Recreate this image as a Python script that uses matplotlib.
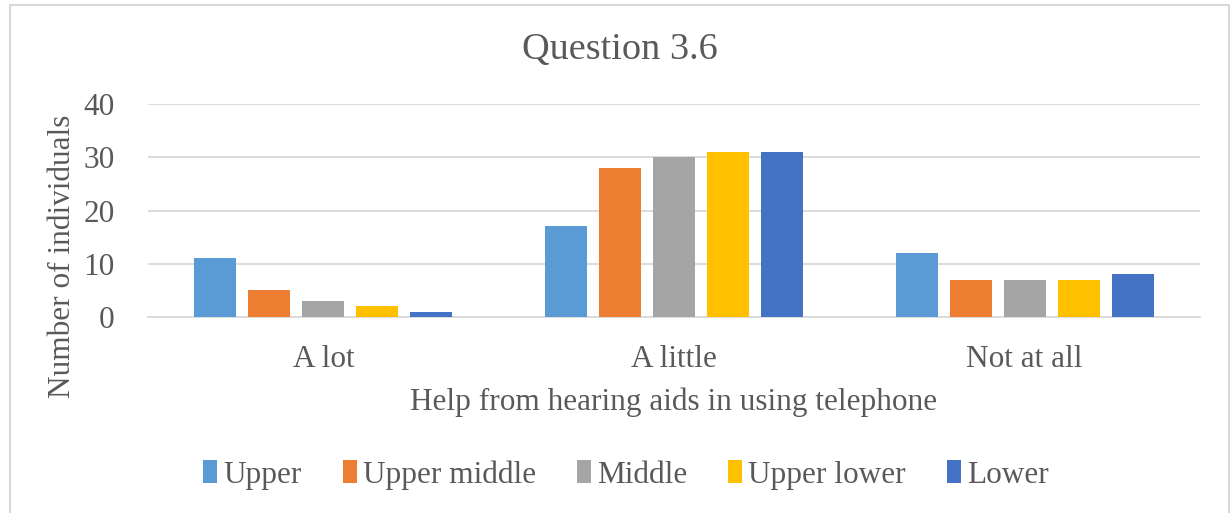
import matplotlib
matplotlib.use("Agg")
import matplotlib.pyplot as plt
from matplotlib.patches import Rectangle
import numpy as np

categories = ["A lot", "A little", "Not at all"]
series_names = ["Upper", "Upper middle", "Middle", "Upper lower", "Lower"]
upper = [11, 17, 12]
upper_middle = [5, 28, 7]
middle = [3, 30, 7]
upper_lower = [2, 31, 7]
lower = [1, 31, 8]
colors = ["#5B9BD5", "#ED7D31", "#A5A5A5", "#FFC000", "#4472C4"]
yticks = [0, 10, 20, 30, 40]

plt.rcParams['font.family'] = ['Liberation Serif', 'DejaVu Serif']
text_color = "#595959"
fs = 22.5

fig = plt.figure(figsize=(12.32, 5.13), dpi=100)
W, H = 1232, 513
ax = fig.add_axes([148/W, 1 - 317/H, (1200-148)/W, (317-104)/H])

data = [upper, upper_middle, middle, upper_lower, lower]
x = np.arange(len(categories))
step = 0.154
width = 0.12
for i, (vals, name, c) in enumerate(zip(data, series_names, colors)):
    ax.bar(x + (i - 2) * step, vals, width, color=c, label=name, zorder=3)

ax.set_xlim(-0.5, 2.5)
ax.set_ylim(0, 40)
ax.set_yticks(yticks)
ax.set_xticks(x)
ax.set_xticklabels(categories)
ax.grid(axis='y', color="#D9D9D9", linewidth=1.3, zorder=0)
for s in ["top", "right", "left"]:
    ax.spines[s].set_visible(False)
ax.spines["bottom"].set_color("#D9D9D9")
ax.spines["bottom"].set_linewidth(1.3)
ax.tick_params(axis='both', length=0, labelsize=fs, colors=text_color)
ax.tick_params(axis='y', pad=24)
ax.tick_params(axis='x', pad=20)
ax.set_ylabel("Number of individuals", fontsize=fs, color=text_color, va='center')
ax.yaxis.set_label_coords((63-148)/1052, (317-256)/213)
ax.set_xlabel("Help from hearing aids in using telephone", fontsize=fs, color=text_color, va='center')
ax.xaxis.set_label_coords(0.5, (317-402)/213)
fig.text(620/W, 1 - 50/H, "Question 3.6", ha='center', va='center', fontsize=27.5, color=text_color)

leg = fig.legend(loc='center', bbox_to_anchor=((616 + 10)/W, 1 - 475/H), ncol=5, frameon=False,
                 fontsize=fs, labelcolor=text_color, handlelength=0.45, handleheight=0.75,
                 handletextpad=0.2, columnspacing=1.3)

fig.patches.append(Rectangle((10/W, -0.01), (1229-10)/W, (H - 5)/H + 0.01, transform=fig.transFigure,
                             fill=False, edgecolor="#D9D9D9", linewidth=1.5))

fig.savefig("out.png", dpi=100)
